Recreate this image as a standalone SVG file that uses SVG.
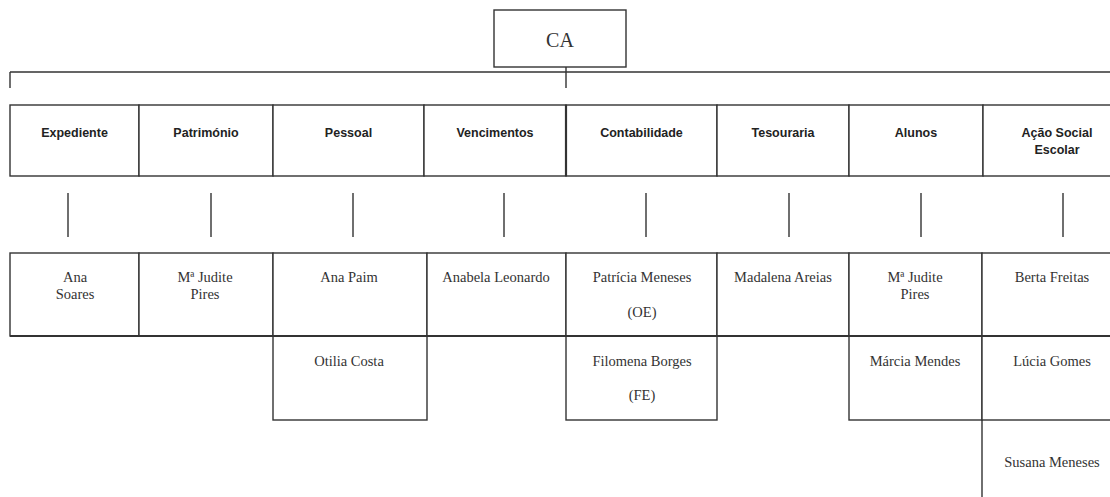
<svg xmlns="http://www.w3.org/2000/svg" width="1110" height="497" viewBox="0 0 1110 497">
<style>
  .box { fill: #ffffff; stroke: #333333; stroke-width: 1.4; }
  .ln { stroke: #333333; stroke-width: 1.4; fill: none; }
  .hd { font-family: "Liberation Sans", Arial, sans-serif; font-weight: bold; font-size: 12.5px; fill: #222222; text-anchor: middle; }
  .nm { font-family: "Liberation Serif", "Times New Roman", serif; font-size: 14.5px; fill: #333333; text-anchor: middle; }
  .ca { font-family: "Liberation Serif", "Times New Roman", serif; font-size: 20px; fill: #333333; text-anchor: middle; }
</style>
<rect width="1110" height="497" fill="#ffffff"/>

<g id="connectors">
  <path class="ln" d="M10 72 H1110 M10 72 V88 M566 67 V88"/>
  <path class="ln" d="M68 193 V237 M211 193 V237 M353 193 V237 M504 193 V237 M646 193 V237 M789 193 V237 M921 193 V237 M1063 193 V237"/>
  <path class="ln" d="M982 420 V497"/>
</g>

<g id="ca"><rect class="box" x="494" y="10" width="132" height="57"/><text class="ca" x="560" y="47">CA</text></g>

<g id="h-expediente"><rect class="box" x="10" y="105" width="129" height="71"/><text class="hd" x="74.5" y="137">Expediente</text></g>
<g id="h-patrimonio"><rect class="box" x="139" y="105" width="134" height="71"/><text class="hd" x="206" y="137">Património</text></g>
<g id="h-pessoal"><rect class="box" x="273" y="105" width="151" height="71"/><text class="hd" x="348.5" y="137">Pessoal</text></g>
<g id="h-vencimentos"><rect class="box" x="424" y="105" width="142" height="71"/><text class="hd" x="495" y="137">Vencimentos</text></g>
<g id="h-contabilidade"><rect class="box" x="566" y="105" width="151" height="71"/><line class="ln" x1="566" y1="105" x2="566" y2="176" style="stroke-width:2.2"/><text class="hd" x="641.5" y="137">Contabilidade</text></g>
<g id="h-tesouraria"><rect class="box" x="717" y="105" width="132" height="71"/><text class="hd" x="783" y="137">Tesouraria</text></g>
<g id="h-alunos"><rect class="box" x="849" y="105" width="134" height="71"/><text class="hd" x="916" y="137">Alunos</text></g>
<g id="h-acao"><rect class="box" x="983" y="105" width="150" height="71"/><text class="hd" x="1057" y="137">Ação Social</text><text class="hd" x="1057" y="154">Escolar</text></g>

<g id="p-ana-soares"><rect class="box" x="10" y="253" width="129" height="83"/><text class="nm" x="75" y="282">Ana</text><text class="nm" x="75" y="299">Soares</text></g>
<g id="p-judite-pires-1"><rect class="box" x="139" y="253" width="134" height="83"/><text class="nm" x="205" y="282">Mª Judite</text><text class="nm" x="205" y="299">Pires</text></g>
<g id="p-ana-paim"><rect class="box" x="273" y="253" width="154" height="83"/><text class="nm" x="349" y="282">Ana Paim</text></g>
<g id="p-anabela"><rect class="box" x="427" y="253" width="139" height="83"/><text class="nm" x="496" y="282">Anabela Leonardo</text></g>
<g id="p-patricia"><rect class="box" x="566" y="253" width="151" height="83"/><text class="nm" x="642" y="282">Patrícia Meneses</text><text class="nm" x="642" y="317">(OE)</text></g>
<g id="p-madalena"><rect class="box" x="717" y="253" width="132" height="83"/><text class="nm" x="783" y="282">Madalena Areias</text></g>
<g id="p-judite-pires-2"><rect class="box" x="849" y="253" width="133" height="83"/><text class="nm" x="915" y="282">Mª Judite</text><text class="nm" x="915" y="299">Pires</text></g>
<g id="p-berta"><rect class="box" x="982" y="253" width="150" height="83"/><text class="nm" x="1052" y="282">Berta Freitas</text></g>

<g id="p-otilia"><rect class="box" x="273" y="336" width="154" height="84"/><text class="nm" x="349" y="366">Otilia Costa</text></g>
<g id="p-filomena"><rect class="box" x="566" y="336" width="151" height="84"/><text class="nm" x="642" y="366">Filomena Borges</text><text class="nm" x="642" y="400">(FE)</text></g>
<g id="p-marcia"><rect class="box" x="849" y="336" width="133" height="84"/><text class="nm" x="915" y="366">Márcia Mendes</text></g>
<g id="p-lucia"><rect class="box" x="982" y="336" width="150" height="84"/><text class="nm" x="1052" y="366">Lúcia Gomes</text></g>
<g id="p-susana"><text class="nm" x="1052" y="467">Susana Meneses</text></g>
<line class="ln" x1="10" y1="336" x2="1110" y2="336" style="stroke-width:2"/>
</svg>
